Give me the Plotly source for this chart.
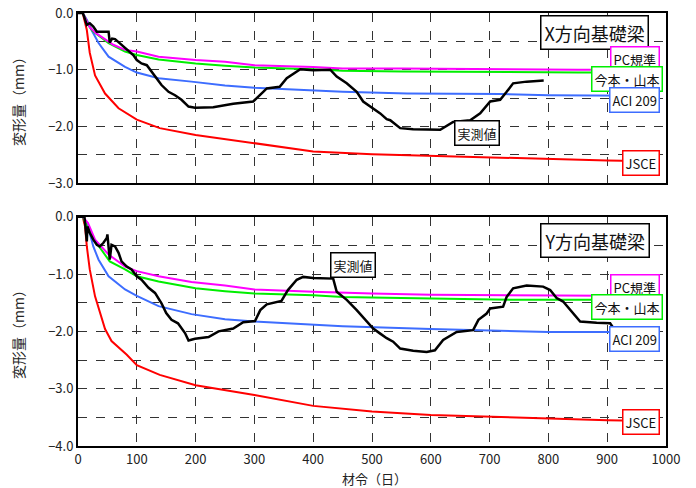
import plotly.graph_objects as go

# ---------------- data: X direction (top) ----------------
x_days_pc = [8, 15, 20, 30, 40, 60, 80, 100, 137, 200, 250, 300, 400, 450, 550, 650, 750, 850, 950]
x_vals_pc = [0, -0.15, -0.25, -0.35, -0.42, -0.56, -0.65, -0.68, -0.77, -0.83, -0.86, -0.92, -0.95, -0.98, -0.98, -0.99, -1.00, -1.00, -1.00]

x_days_im = [8, 15, 20, 25, 35, 52, 80, 100, 137, 200, 250, 300, 400, 450, 550, 650, 750, 850, 950]
x_vals_im = [0, -0.15, -0.25, -0.32, -0.40, -0.53, -0.68, -0.74, -0.82, -0.89, -0.93, -0.96, -0.99, -1.02, -1.03, -1.04, -1.04, -1.05, -1.05]

x_days_aci = [8, 15, 23, 35, 52, 80, 100, 137, 193, 250, 300, 400, 450, 560, 650, 720, 800, 900, 950]
x_vals_aci = [0, -0.12, -0.30, -0.53, -0.77, -0.95, -1.05, -1.15, -1.21, -1.28, -1.32, -1.37, -1.39, -1.42, -1.42, -1.43, -1.45, -1.46, -1.46]

x_days_jsce = [8, 12, 15, 20, 29, 46, 69, 100, 139, 200, 300, 400, 500, 600, 700, 800, 900, 950]
x_vals_jsce = [0, -0.15, -0.30, -0.70, -1.10, -1.42, -1.68, -1.88, -2.03, -2.15, -2.30, -2.44, -2.49, -2.52, -2.55, -2.58, -2.60, -2.61]

x_days_meas = [0, 8, 10, 15, 20, 26, 32, 52, 54, 58, 63, 71, 80, 94, 100, 108, 117, 125, 131, 142,
               154, 165, 176, 188, 199, 230, 264, 298, 315, 321, 343, 355, 378, 400, 429, 440,
               457, 474, 485, 502, 514, 525, 531, 548, 570, 616, 638, 667, 684, 701, 718, 729,
               740, 763, 792]
x_vals_meas = [0, 0, -0.05, -0.21, -0.18, -0.24, -0.33, -0.33, -0.52, -0.45, -0.46, -0.53, -0.62, -0.74,
               -0.83, -0.89, -0.92, -1.03, -1.12, -1.27, -1.39, -1.45, -1.53, -1.65, -1.67, -1.66,
               -1.60, -1.56, -1.39, -1.33, -1.30, -1.15, -0.99, -1.01, -1.00, -1.12, -1.24, -1.39,
               -1.56, -1.68, -1.77, -1.87, -1.89, -2.03, -2.05, -2.06, -1.92, -1.89, -1.77, -1.56,
               -1.53, -1.39, -1.24, -1.21, -1.19]

# ---------------- data: Y direction (bottom) ----------------
y_days_pc = [8, 17, 29, 52, 80, 100, 137, 193, 250, 300, 400, 450, 500, 600, 700, 800, 900, 950]
y_vals_pc = [0, -0.11, -0.40, -0.66, -0.87, -0.95, -1.04, -1.14, -1.20, -1.27, -1.31, -1.33, -1.34, -1.36, -1.37, -1.37, -1.38, -1.38]

y_days_im = [8, 15, 23, 40, 54, 80, 100, 137, 200, 250, 300, 400, 450, 550, 650, 750, 850, 950]
y_vals_im = [0, -0.15, -0.34, -0.58, -0.78, -0.92, -1.04, -1.13, -1.25, -1.30, -1.34, -1.37, -1.40, -1.42, -1.44, -1.45, -1.45, -1.45]

y_days_aci = [8, 17, 26, 35, 52, 80, 100, 137, 193, 250, 300, 400, 450, 600, 700, 800, 900, 950]
y_vals_aci = [0, -0.17, -0.52, -0.75, -1.04, -1.27, -1.38, -1.56, -1.70, -1.79, -1.83, -1.89, -1.91, -1.96, -1.98, -2.01, -2.01, -2.02]

y_days_jsce = [8, 12, 15, 20, 29, 37, 46, 57, 83, 100, 139, 200, 300, 400, 500, 600, 700, 800, 900, 950]
y_vals_jsce = [0, -0.17, -0.52, -0.92, -1.39, -1.68, -1.96, -2.17, -2.41, -2.59, -2.76, -2.94, -3.11, -3.30, -3.40, -3.46, -3.49, -3.53, -3.55, -3.56]

y_days_meas = [0, 11, 15, 16, 20, 26, 32, 37, 43, 49, 50, 52, 54, 57, 63, 69, 74, 83, 91, 100, 108,
               120, 131, 142, 150, 159, 170, 182, 188, 199, 222, 239, 250, 264, 281, 301, 310, 321,
               346, 357, 372, 383, 400, 434, 440, 457, 474, 491, 502, 514, 525, 536, 548, 570, 593,
               607, 621, 644, 672, 681, 695, 701, 723, 729, 740, 763, 791, 803, 814, 825, 842, 854,
               882, 905, 911, 945]
y_vals_meas = [0, 0, -0.43, -0.17, -0.28, -0.40, -0.49, -0.52, -0.46, -0.37, -0.31, -0.49, -0.75, -0.49,
               -0.52, -0.63, -0.78, -0.87, -0.92, -1.04, -1.10, -1.24, -1.33, -1.51, -1.68, -1.80,
               -1.86, -2.03, -2.16, -2.13, -2.10, -2.00, -1.98, -1.95, -1.84, -1.82, -1.63, -1.53,
               -1.47, -1.28, -1.10, -1.05, -1.07, -1.08, -1.31, -1.45, -1.63, -1.83, -1.95, -2.04,
               -2.12, -2.18, -2.30, -2.34, -2.36, -2.33, -2.15, -2.01, -1.98, -1.80, -1.69, -1.60,
               -1.57, -1.40, -1.25, -1.20, -1.22, -1.28, -1.42, -1.48, -1.69, -1.83, -1.85, -1.86,
               -1.95, -1.93]

x_ticks = [0, 100, 200, 300, 400, 500, 600, 700, 800, 900, 1000]
top_yticks = [0, -0.5, -1.0, -1.5, -2.0, -2.5, -3.0]
top_ytext = ["0.0", "", "−1.0", "", "−2.0", "", "−3.0"]
bot_yticks = [0, -0.5, -1.0, -1.5, -2.0, -2.5, -3.0, -3.5, -4.0]
bot_ytext = ["0.0", "", "−1.0", "", "−2.0", "", "−3.0", "", "−4.0"]

FONT = "Noto Sans CJK JP"
C_PC = "#ff00ff"
C_IM = "#00ee00"
C_ACI = "#3d6dff"
C_JSCE = "#ff0000"
C_MEAS = "#000000"

fig = go.Figure()

def add_set(xa, ya, sets):
    for xs, ys, c, w in sets:
        fig.add_trace(go.Scatter(x=xs, y=ys, mode="lines", line=dict(color=c, width=w),
                                 xaxis=xa, yaxis=ya, showlegend=False, hoverinfo="skip"))

add_set("x", "y", [
    (x_days_jsce, x_vals_jsce, C_JSCE, 2),
    (x_days_aci, x_vals_aci, C_ACI, 2),
    (x_days_im, x_vals_im, C_IM, 2),
    (x_days_pc, x_vals_pc, C_PC, 2),
    (x_days_meas, x_vals_meas, C_MEAS, 2.5),
])
add_set("x2", "y2", [
    (y_days_jsce, y_vals_jsce, C_JSCE, 2),
    (y_days_aci, y_vals_aci, C_ACI, 2),
    (y_days_im, y_vals_im, C_IM, 2),
    (y_days_pc, y_vals_pc, C_PC, 2),
    (y_days_meas, y_vals_meas, C_MEAS, 2.5),
])

ax_common = dict(showline=True, linecolor="black", linewidth=2, mirror=True,
                 showgrid=True, gridcolor="#333333", gridwidth=1, griddash="dash",
                 zeroline=False, ticks="", automargin=False,
                 tickfont=dict(family=FONT, size=13, color="#222"))

fig.update_layout(
    width=696, height=488,
    margin=dict(l=78, r=30, t=13, b=42, autoexpand=False),
    paper_bgcolor="white", plot_bgcolor="white",
    font=dict(family=FONT, color="#222"),
    xaxis=dict(ax_common, range=[0, 1000], tickvals=x_ticks, showticklabels=False,
               anchor="y", domain=[0, 1]),
    yaxis=dict(ax_common, range=[-3, 0], tickvals=top_yticks, ticktext=top_ytext,
               anchor="x", domain=[0.607, 1.0]),
    xaxis2=dict(ax_common, range=[0, 1000], tickvals=x_ticks, anchor="y2", domain=[0, 1]),
    yaxis2=dict(ax_common, range=[-4, 0], tickvals=bot_yticks, ticktext=bot_ytext,
                anchor="x2", domain=[0, 0.5296]),
)

annos = []
def box(xa, ya, x, y, text, color, size=13, pad=2, width=1.5):
    annos.append(dict(xref=xa, yref=ya, x=x, y=y, text=text, showarrow=False,
                      font=dict(family=FONT, size=size, color="#111"),
                      bgcolor="white", bordercolor=color, borderwidth=width, borderpad=pad,
                      xanchor="center", yanchor="middle"))

box("x", "y", 879, -0.335, "X方向基礎梁", "black", size=18, pad=3, width=1.5)
box("x", "y", 947, -0.81, "PC規準", C_PC)
box("x", "y", 934, -1.17, "今本・山本", C_IM)
box("x", "y", 946, -1.53, "ACI 209", C_ACI)
box("x", "y", 958, -2.64, "JSCE", C_JSCE)
box("x", "y", 679, -2.12, "実測値", "black")

box("x2", "y2", 880, -0.415, "Y方向基礎梁", "black", size=18, pad=3, width=1.5)
box("x2", "y2", 947, -1.22, "PC規準", C_PC)
box("x2", "y2", 934, -1.58, "今本・山本", C_IM)
box("x2", "y2", 946, -2.13, "ACI 209", C_ACI)
box("x2", "y2", 958, -3.59, "JSCE", C_JSCE)
box("x2", "y2", 467, -0.85, "実測値", "black")

# axis titles
for yc in [(446 - 98) / 433, (446 - 331) / 433]:
    annos.append(dict(xref="paper", yref="paper", x=-0.102, y=yc, text="変形量（mm）",
                      textangle=-90, showarrow=False, xanchor="center", yanchor="middle",
                      font=dict(family=FONT, size=14, color="#222")))
annos.append(dict(xref="paper", yref="paper", x=0.505, y=-(478 - 446) / 433, text="材令（日）",
                  showarrow=False, xanchor="center", yanchor="middle",
                  font=dict(family=FONT, size=13, color="#222")))

fig.update_layout(annotations=annos)
fig.write_html("out.html")
